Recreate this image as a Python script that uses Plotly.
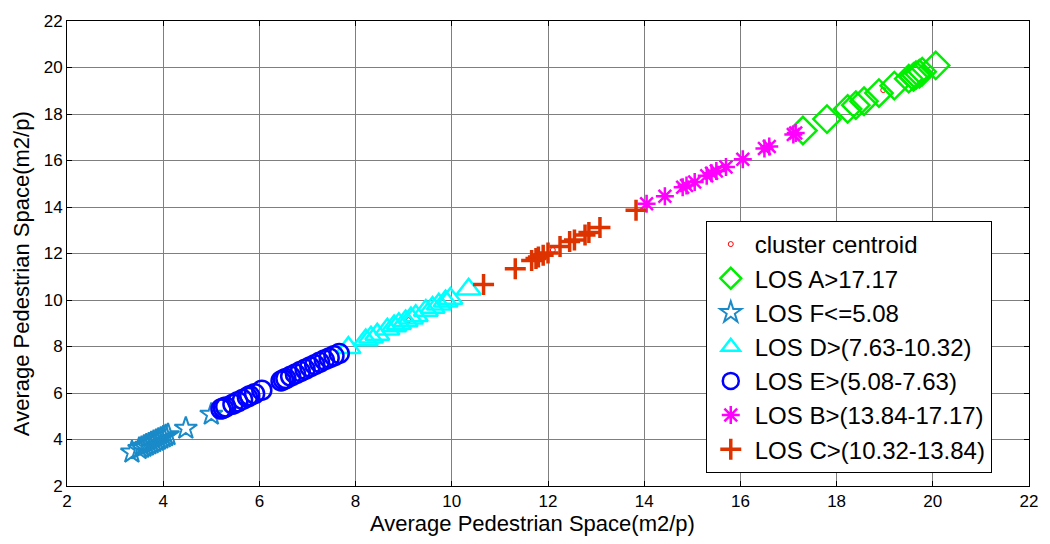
import plotly.graph_objects as go

# ---- data ----
cent_x = [3.80, 6.60, 9.10, 12.10, 15.55, 18.97]
cent_y = [3.88, 6.66, 9.13, 12.15, 15.60, 19.03]

a_x = [17.30, 17.80, 18.23, 18.40, 18.57, 18.88, 19.20, 19.50, 19.60, 19.65, 19.72, 19.78, 20.06]
a_y = [17.29, 17.78, 18.22, 18.38, 18.55, 18.90, 19.22, 19.52, 19.60, 19.67, 19.73, 19.82, 20.09]

f_x = [3.35, 3.50, 3.55, 3.60, 3.65, 3.70, 3.75, 3.80, 3.85, 3.90, 3.95, 4.00, 4.05, 4.10, 4.47, 5.00]
f_y = [3.45, 3.60, 3.65, 3.70, 3.75, 3.80, 3.85, 3.90, 3.95, 4.00, 4.05, 4.10, 4.15, 4.20, 4.48, 5.08]

d_x = [7.85, 8.21, 8.32, 8.45, 8.66, 8.80, 8.90, 9.04, 9.15, 9.25, 9.46, 9.60, 9.73, 9.87, 9.97, 10.35]
d_y = [7.95, 8.28, 8.40, 8.52, 8.74, 8.88, 8.98, 9.10, 9.22, 9.32, 9.55, 9.68, 9.82, 9.95, 10.06, 10.46]

e_x = [5.20, 5.25, 5.30, 5.45, 5.55, 5.65, 5.75, 5.80, 5.90, 6.05, 6.45, 6.50, 6.55, 6.65,
       6.75, 6.85, 6.95, 7.05, 7.15, 7.25, 7.35, 7.45, 7.55, 7.66]
e_y = [5.31, 5.35, 5.40, 5.52, 5.62, 5.72, 5.82, 5.88, 5.97, 6.12, 6.52, 6.57, 6.62, 6.72,
       6.82, 6.92, 7.02, 7.12, 7.22, 7.32, 7.42, 7.51, 7.60, 7.70]

b_x = [14.05, 14.43, 14.80, 14.88, 15.05, 15.30, 15.40, 15.50, 15.70, 16.05, 16.50, 16.60, 17.10, 17.15]
b_y = [14.14, 14.46, 14.85, 14.92, 15.08, 15.34, 15.45, 15.55, 15.72, 16.05, 16.52, 16.60, 17.12, 17.18]

c_x = [10.66, 11.32, 11.66, 11.75, 11.80, 11.90, 12.00, 12.25, 12.45, 12.55, 12.77, 12.85, 13.08, 13.83]
c_y = [10.67, 11.34, 11.70, 11.78, 11.85, 11.92, 12.02, 12.30, 12.52, 12.58, 12.80, 12.90, 13.12, 13.86]

x_ticks = [2, 4, 6, 8, 10, 12, 14, 16, 18, 20, 22]
y_ticks = [2, 4, 6, 8, 10, 12, 14, 16, 18, 20, 22]

x_title = "Average Pedestrian Space(m2/p)"
y_title = "Average Pedestrian Space(m2/p)"

FONT = "Arial, Liberation Sans, sans-serif"

fig = go.Figure()

def add(x, y, name, symbol, color, size, width):
    fig.add_trace(go.Scatter(
        x=x, y=y, mode="markers", name=name,
        marker=dict(symbol=symbol, size=size, color=color,
                    line=dict(color=color, width=width)),
    ))

add(cent_x, cent_y, "cluster centroid", "circle-open", "#ff0000", 5, 1)
add(a_x, a_y, "LOS A>17.17", "diamond-open", "#00ee00", 21, 2.5)
add(f_x, f_y, "LOS F<=5.08", "star-open", "#1a8ac8", 17, 2)
add(d_x, d_y, "LOS D>(7.63-10.32)", "triangle-up-open", "#00ffff", 21, 2.5)
add(e_x, e_y, "LOS E>(5.08-7.63)", "circle-open", "#0000ff", 19, 2.5)
add(b_x, b_y, "LOS B>(13.84-17.17)", "asterisk-open", "#ff00ff", 15, 2.5)
add(c_x, c_y, "LOS C>(10.32-13.84)", "cross-thin-open", "#dd3300", 15, 3.5)

axis_common = dict(
    showline=True, linecolor="black", linewidth=1, mirror="ticks",
    ticks="inside", ticklen=5, tickcolor="black",
    showgrid=True, gridcolor="#7f7f7f", gridwidth=1,
    zeroline=False, tickfont=dict(family=FONT, size=17, color="black"),
)

fig.update_xaxes(range=[2, 22], tickvals=x_ticks, **axis_common)
fig.update_yaxes(range=[2, 22], tickvals=y_ticks, **axis_common)

title_font = dict(family=FONT, size=22, color="black")
fig.add_annotation(text=x_title, xref="paper", yref="paper", x=0.4834, y=-0.0815,
                   xanchor="center", yanchor="middle", showarrow=False, font=title_font)
fig.add_annotation(text=y_title, xref="paper", yref="paper", x=-0.0466, y=0.456,
                   xanchor="center", yanchor="middle", textangle=-90,
                   showarrow=False, font=title_font)

fig.update_layout(
    width=1050, height=544,
    margin=dict(l=67, r=18, t=15, b=58),
    plot_bgcolor="white", paper_bgcolor="white",
    font=dict(family=FONT, color="black"),
    legend=dict(x=0.664, y=0.028, xanchor="left", yanchor="bottom",
                bgcolor="white", bordercolor="black", borderwidth=1,
                font=dict(family=FONT, size=24, color="black"),
                itemsizing="trace", itemwidth=38),
)

fig.write_html("out.html")
